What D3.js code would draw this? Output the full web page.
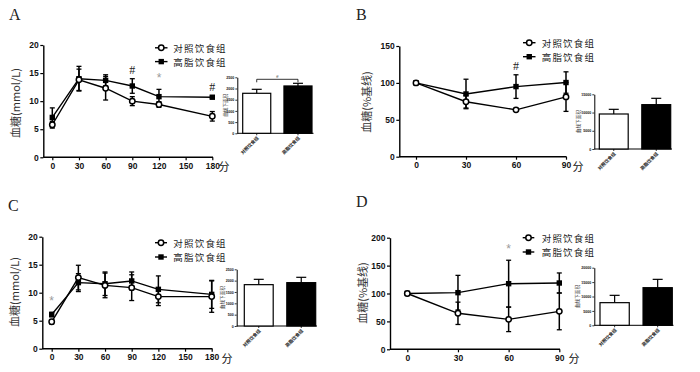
<!DOCTYPE html>
<html><head><meta charset="utf-8">
<script src="https://cdn.jsdelivr.net/npm/d3@7"></script>
<style>body{margin:0;background:#fff}svg{display:block}</style>
</head><body><svg id="c" width="700" height="372"></svg>
<script>
// ---------- data ----------
const seriesNames = ["对照饮食组", "高脂饮食组"];
const timesLong = [0, 30, 60, 90, 120, 180];
const timesShort = [0, 30, 60, 90];
const xTicksLong = [0, 30, 60, 90, 120, 150, 180];
const xTicksShort = [0, 30, 60, 90];
const yTicksMmol = [0, 5, 10, 15, 20];
const yTicksB = [0, 50, 100, 150];
const yTicksD = [0, 50, 100, 150, 200];
const aucTicksA = [0, 500, 1000, 1500, 2000, 2500];
const aucTicksB = [0, 5000, 10000, 15000];
const aucTicksC = [0, 500, 1000, 1500, 2000, 2500];
const aucTicksD = [0, 5000, 10000, 15000, 20000];

const ctrlA = [5.8, 13.8, 12.3, 10.0, 9.4, 7.3];
const ctrlErrA = [0.6, 1.9, 2.1, 0.8, 0.5, 0.85];
const hfdA = [7.1, 14.0, 13.7, 12.7, 10.8, 10.7];
const hfdErrA = [1.7, 2.2, 1.0, 1.3, 1.3, 0.2];
const aucA = [1786, 2113];
const aucErrA = [178, 119];
const sigA = [{t: 90, s: "#"}, {t: 120, s: "*"}, {t: 180, s: "#"}];

const ctrlB = [100, 74.5, 63.5, 81];
const ctrlErrB = [0, 8.5, 0, 19.6];
const hfdB = [100, 85, 95, 100.5];
const hfdErrB = [0, 20, 16, 14.5];
const aucB = [9600, 12165];
const aucErrB = [1280, 1735];
const sigB = [{t: 60, s: "#"}];

const ctrlC = [4.8, 12.7, 11.3, 10.9, 9.3, 9.3];
const ctrlErrC = [0.4, 2.2, 2.2, 2.3, 1.6, 2.8];
const hfdC = [6.1, 11.8, 11.6, 12.1, 10.6, 9.7];
const hfdErrC = [0.4, 1.6, 2.1, 1.6, 2.4, 2.5];
const aucC = [1823, 1912];
const aucErrC = [235, 235];
const sigC = [{t: 0, s: "*"}];

const ctrlD = [100, 64.5, 53.7, 68];
const ctrlErrD = [0, 20, 22, 33];
const hfdD = [100, 101.5, 117.6, 118.8];
const hfdErrD = [0, 31, 42, 18];
const aucD = [7860, 13064];
const aucErrD = [2545, 2890];
const sigD = [{t: 60, s: "*"}];

// ---------- layout ----------
const panels = [
  {letter: "A", lx: 9, ly: 20, times: timesLong, xTicks: xTicksLong, xDomain: [0, 180], xRange: [52.3, 212.3],
   axisX: 43.3, axisEnd: 213, yDomain: [0, 20], yRange: [157.3, 45], yTicks: yTicksMmol,
   ytitle: "血糖(mmol/L)", tx: 15, ty: 103, fenX: 224,
   ctrl: ctrlA, ctrlErr: ctrlErrA, hfd: hfdA, hfdErr: hfdErrA, sig: sigA,
   leg: {lx1: 155, lx2: 167.5, tx: 173.3, y: [47.8, 61.6]},
   ins: {axisX: 237.3, yDomain: [0, 2500], yRange: [133.3, 77.3], ticks: aucTicksA, band: [242.7, 312], end: 313.5,
         labX: 225, vals: aucA, errs: aucErrA, bracket: "#"}},
  {letter: "B", lx: 356, ly: 20, times: timesShort, xTicks: xTicksShort, xDomain: [0, 90], xRange: [416, 566],
   axisX: 399.3, axisEnd: 566.5, yDomain: [0, 150], yRange: [156.7, 46], yTicks: yTicksB,
   ytitle: "血糖(%基线)", tx: 366, ty: 102, fenX: 578,
   ctrl: ctrlB, ctrlErr: ctrlErrB, hfd: hfdB, hfdErr: hfdErrB, sig: sigB,
   leg: {lx1: 523, lx2: 535.5, tx: 541.7, y: [42.7, 56.7]},
   ins: {axisX: 594.3, yDomain: [0, 15000], yRange: [149, 94.3], ticks: aucTicksB, band: [599.3, 670.7], end: 672,
         labX: 578, vals: aucB, errs: aucErrB, bracket: null}},
  {letter: "C", lx: 8, ly: 211, times: timesLong, xTicks: xTicksLong, xDomain: [0, 180], xRange: [51.7, 211.7],
   axisX: 42.3, axisEnd: 212.5, yDomain: [0, 20], yRange: [348.7, 236.7], yTicks: yTicksMmol,
   ytitle: "血糖(mmol/L)", tx: 14, ty: 292, fenX: 227,
   ctrl: ctrlC, ctrlErr: ctrlErrC, hfd: hfdC, hfdErr: hfdErrC, sig: sigC,
   leg: {lx1: 155, lx2: 167, tx: 173.3, y: [242.7, 257]},
   ins: {axisX: 236.7, yDomain: [0, 2500], yRange: [326, 269.3], ticks: aucTicksC, band: [244.3, 315.7], end: 317,
         labX: 222, vals: aucC, errs: aucErrC, bracket: null}},
  {letter: "D", lx: 356, ly: 206.5, times: timesShort, xTicks: xTicksShort, xDomain: [0, 90], xRange: [407.3, 559.3],
   axisX: 390, axisEnd: 560, yDomain: [0, 200], yRange: [349.3, 237.7], yTicks: yTicksD,
   ytitle: "血糖(%基线)", tx: 362, ty: 293, fenX: 574,
   ctrl: ctrlD, ctrlErr: ctrlErrD, hfd: hfdD, hfdErr: hfdErrD, sig: sigD,
   leg: {lx1: 522.7, lx2: 534.3, tx: 541.7, y: [237.7, 252]},
   ins: {axisX: 594.3, yDomain: [0, 20000], yRange: [325.3, 267.7], ticks: aucTicksD, band: [600, 672.3], end: 673.5,
         labX: 577, vals: aucD, errs: aucErrD, bracket: null}}
];

const svg = d3.select("#c");
const CJK = "'Noto Sans CJK SC', sans-serif";
const NUM = "'Liberation Sans', Arial, sans-serif";

function styleAxis(g, fs) {
  g.select(".domain").attr("stroke", "#000").attr("stroke-width", 1.4);
  g.selectAll(".tick line").attr("stroke", "#000").attr("stroke-width", 1.2);
  g.selectAll(".tick text").attr("font-family", NUM).attr("font-weight", "bold")
    .attr("font-size", fs).attr("fill", "#111");
}

panels.forEach(p => {
  const g = svg.append("g");
  const x = d3.scaleLinear().domain(p.xDomain).range(p.xRange);
  const y = d3.scaleLinear().domain(p.yDomain).range(p.yRange);

  // panel letter
  g.append("text").attr("x", p.lx).attr("y", p.ly).text(p.letter)
    .attr("font-family", "'Liberation Serif', serif").attr("font-size", 16).attr("fill", "#222");

  // y axis
  const ya = g.append("g").attr("transform", `translate(${p.axisX},0)`)
    .call(d3.axisLeft(y).tickValues(p.yTicks).tickSize(3).tickPadding(1.5).tickSizeOuter(0));
  styleAxis(ya, 8.5);
  // x axis
  const xa = g.append("g").attr("transform", `translate(0,${p.yRange[0]})`)
    .call(d3.axisBottom(x).tickValues(p.xTicks).tickSize(3).tickPadding(2.5).tickSizeOuter(0));
  styleAxis(xa, 8.5);
  xa.select(".domain").attr("d", `M${p.axisX},0H${p.axisEnd}`);

  g.append("text").attr("x", p.fenX).attr("y", p.yRange[0] + 9).attr("text-anchor", "middle")
    .attr("dominant-baseline", "central").attr("font-family", CJK).attr("font-size", 11).attr("fill", "#111").text("分");

  // y title
  g.append("text").attr("transform", `translate(${p.tx},${p.ty}) rotate(-90)`)
    .attr("text-anchor", "middle").attr("dominant-baseline", "central")
    .attr("font-family", CJK).attr("font-size", 11).attr("fill", "#333").text(p.ytitle);

  const series = [
    {vals: p.ctrl, errs: p.ctrlErr, kind: "circle"},
    {vals: p.hfd, errs: p.hfdErr, kind: "square"}
  ];
  // error bars
  series.forEach(s => {
    s.vals.forEach((v, i) => {
      const e = s.errs[i];
      if (!e) return;
      const cx = x(p.times[i]);
      const y1 = y(v - e), y2 = y(v + e);
      g.append("line").attr("x1", cx).attr("x2", cx).attr("y1", y1).attr("y2", y2)
        .attr("stroke", "#000").attr("stroke-width", 1.5);
      [y1, y2].forEach(yy => g.append("line").attr("x1", cx - 2.5).attr("x2", cx + 2.5)
        .attr("y1", yy).attr("y2", yy).attr("stroke", "#000").attr("stroke-width", 1.3));
    });
  });
  // lines
  const line = d3.line().x((d, i) => x(p.times[i])).y(d => y(d));
  series.forEach(s => g.append("path").attr("d", line(s.vals)).attr("fill", "none")
    .attr("stroke", "#000").attr("stroke-width", 1.4));
  // markers
  p.hfd.forEach((v, i) => g.append("rect").attr("x", x(p.times[i]) - 2.7).attr("y", y(v) - 2.7)
    .attr("width", 5.4).attr("height", 5.4).attr("fill", "#000"));
  p.ctrl.forEach((v, i) => g.append("circle").attr("cx", x(p.times[i])).attr("cy", y(v)).attr("r", 2.7)
    .attr("fill", "#fff").attr("stroke", "#000").attr("stroke-width", 1.5));

  // significance marks
  p.sig.forEach(m => {
    const i = p.times.indexOf(m.t);
    const top = Math.max(p.hfd[i] + p.hfdErr[i], p.ctrl[i] + p.ctrlErr[i]);
    g.append("text").attr("x", x(m.t)).attr("y", y(top) - (m.s === "*" ? 11 : 9))
      .attr("text-anchor", "middle").attr("dominant-baseline", "central")
      .attr("font-family", m.s === "*" ? NUM : "'Liberation Serif', serif")
      .attr("font-size", 12).attr("fill", m.s === "*" ? "#9a9a9a" : "#222").text(m.s);
  });

  // legend
  seriesNames.forEach((name, k) => {
    const ly = p.leg.y[k];
    const mx = (p.leg.lx1 + p.leg.lx2) / 2;
    g.append("line").attr("x1", p.leg.lx1).attr("x2", p.leg.lx2).attr("y1", ly).attr("y2", ly)
      .attr("stroke", "#000").attr("stroke-width", 1.4);
    if (k === 0) g.append("circle").attr("cx", mx).attr("cy", ly).attr("r", 2.7)
      .attr("fill", "#fff").attr("stroke", "#000").attr("stroke-width", 1.5);
    else g.append("rect").attr("x", mx - 2.7).attr("y", ly - 2.7).attr("width", 5.4).attr("height", 5.4).attr("fill", "#000");
    g.append("text").attr("x", p.leg.tx).attr("y", ly).attr("dominant-baseline", "central")
      .attr("font-family", CJK).attr("font-size", 9.5).attr("letter-spacing", 1.2)
      .attr("fill", "#222").text(name);
  });

  // inset bar chart
  const ins = p.ins;
  const iy = d3.scaleLinear().domain(ins.yDomain).range(ins.yRange);
  const ix = d3.scaleBand().domain(seriesNames).range(ins.band).paddingInner(0.32);
  const iya = g.append("g").attr("transform", `translate(${ins.axisX},0)`)
    .call(d3.axisLeft(iy).tickValues(ins.ticks).tickSize(2).tickPadding(1).tickSizeOuter(0).tickFormat(d3.format("d")));
  styleAxis(iya, 3.6);
  iya.select(".domain").attr("stroke-width", 1);
  iya.selectAll(".tick line").attr("stroke-width", 0.8);
  const ixa = g.append("g").attr("transform", `translate(0,${ins.yRange[0]})`)
    .call(d3.axisBottom(ix).tickSize(2).tickSizeOuter(0));
  ixa.select(".domain").attr("d", `M${ins.axisX},0H${ins.end}`).attr("stroke", "#000").attr("stroke-width", 1);
  ixa.selectAll(".tick line").attr("stroke", "#000").attr("stroke-width", 0.8);
  ixa.selectAll(".tick text").attr("transform", "translate(0,1) rotate(-45)").attr("text-anchor", "end")
    .attr("dy", "0.35em").attr("dx", "-0.3em").attr("y", 3)
    .attr("font-family", CJK).attr("font-size", 4.6).attr("font-weight", "bold").attr("fill", "#222");

  seriesNames.forEach((name, k) => {
    const bx = ix(name), bw = ix.bandwidth();
    const cx = bx + bw / 2;
    const top = iy(ins.vals[k] + ins.errs[k]);
    g.append("line").attr("x1", cx).attr("x2", cx).attr("y1", iy(ins.vals[k])).attr("y2", top)
      .attr("stroke", "#000").attr("stroke-width", 1.2);
    g.append("line").attr("x1", cx - 5).attr("x2", cx + 5).attr("y1", top).attr("y2", top)
      .attr("stroke", "#000").attr("stroke-width", 1.2);
    g.append("rect").attr("x", bx).attr("y", iy(ins.vals[k])).attr("width", bw)
      .attr("height", ins.yRange[0] - iy(ins.vals[k]))
      .attr("fill", k === 0 ? "#fff" : "#000").attr("stroke", "#000").attr("stroke-width", 1.2);
  });
  g.append("text").attr("transform", `translate(${ins.labX},${(ins.yRange[0] + ins.yRange[1]) / 2}) rotate(-90)`)
    .attr("text-anchor", "middle").attr("dominant-baseline", "central")
    .attr("font-family", CJK).attr("font-size", 4.6).attr("fill", "#333").text("曲线下面积");

  if (ins.bracket) {
    const c0 = ix(seriesNames[0]) + ix.bandwidth() / 2, c1 = ix(seriesNames[1]) + ix.bandwidth() / 2;
    const by = Math.min(iy(ins.vals[0] + ins.errs[0]), iy(ins.vals[1] + ins.errs[1])) - 4;
    g.append("path").attr("d", `M${c0},${by + 3}V${by}H${c1}V${by + 3}`).attr("fill", "none")
      .attr("stroke", "#000").attr("stroke-width", 0.8);
    g.append("text").attr("x", (c0 + c1) / 2).attr("y", by - 2.5).attr("text-anchor", "middle")
      .attr("dominant-baseline", "central").attr("font-family", "'Liberation Serif', serif")
      .attr("font-size", 5).attr("fill", "#222").text(ins.bracket);
  }
});
</script></body></html>
